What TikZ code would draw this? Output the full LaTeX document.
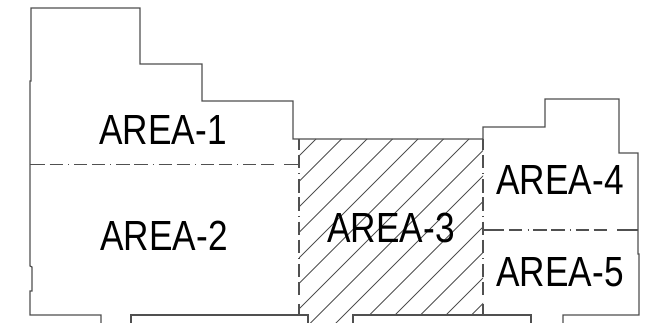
\documentclass[tikz,border=0pt]{standalone}
\usepackage[]{xcolor}
\usepackage{fontspec}
\setmainfont{Liberation Sans}
\definecolor{wallgray}{HTML}{505050}
\tikzset{
  wall/.style={draw=wallgray,line width=.65pt},
  hatchline/.style={draw=wallgray,line width=.42pt},
  splitline/.style={draw=wallgray,line width=.65pt,dash pattern=on 7.57pt off 2.96pt on .45pt off 2.85pt on 7.57pt off 2.67pt},
  arealabel/.style={font=\fontsize{24}{25}\selectfont,xscale=.835,inner sep=0pt}
}
\begin{document}
\begin{tikzpicture}[x=.02cm,y=-.02cm]
        \useasboundingbox (0,0) rectangle (658,323);
        % hatching of the middle area
        \begin{scope}
          \clip (299,139) -- (483,139) -- (483,315) -- (353,315) -- (353,323) -- (308,323) -- (308,315) -- (299,315) -- cycle;
          \foreach \i in {0,...,20}
            \draw[hatchline] ({455+25.5*(\i-3)-139},139) -- ++(-200,200);
        \end{scope}
        % outline
        \draw[wall] (101,323) -- (101,315) -- (30,315) -- (30,291) -- (32,291) -- (32,267) -- (30,266) -- (30,81) -- (31,81) -- (31,8)
          -- (140,8) -- (140,64) -- (202,64) -- (202,101) -- (293,101) -- (293,139) -- (483,139) -- (483,127)
          -- (545,127) -- (545,99) -- (619,99) -- (619,153) -- (638,153) -- (638,254) -- (639,254) -- (639,315)
          -- (563,315) -- (563,323);
        \draw[wall] (131,323) -- (131,315) -- (308,315) -- (308,323);
        \draw[wall] (353,323) -- (353,315) -- (531,315) -- (531,323);
        % area limits
        \draw[wall] (30,164.5) -- (45,164.5) (284,164.5) -- (299,164.5);
        \draw[splitline] (49.7,164.5) -- (279.5,164.5);
        \draw[wall] (299,139) -- (299,150) (299,304) -- (299,315);
        \draw[splitline] (299,155) -- (299,299);
        \draw[wall] (483,139) -- (483,150) (483,304) -- (483,315);
        \draw[splitline] (483,155) -- (483,299);
        \draw[wall] (483,230) -- (504,230) (617,230) -- (638,230);
        \draw[splitline] (509,230) -- (612,230);
        % labels
        \node[arealabel] (area1) at (163,129.5) {AREA-1};
        \node[arealabel] (area2) at (164,236) {AREA-2};
        \node[arealabel] (area3) at (391,228) {AREA-3};
        \node[arealabel] (area4) at (560,179.5) {AREA-4};
        \node[arealabel] (area5) at (560,272.5) {AREA-5};
\end{tikzpicture}
\end{document}
